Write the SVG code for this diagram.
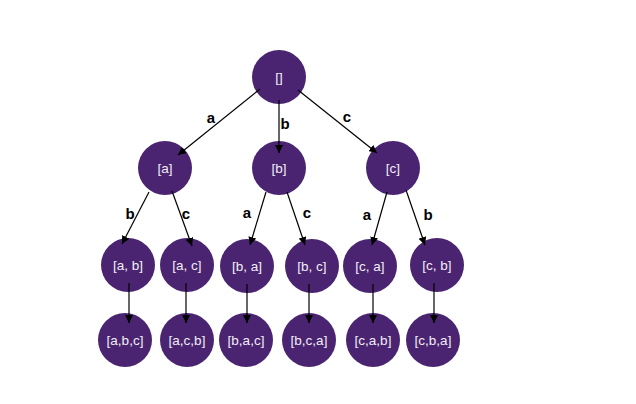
<svg xmlns="http://www.w3.org/2000/svg" width="636" height="404" viewBox="0 0 636 404">
<defs>
<marker id="arr" viewBox="0 0 10 10" refX="10" refY="5" markerWidth="8" markerHeight="8" markerUnits="userSpaceOnUse" orient="auto">
<path d="M0,0 L10,5 L0,10 z" fill="#000"/>
</marker>
</defs>
<style>
.n circle{fill:#4a2471;}
.n text{fill:#f2eef6;font-family:"Liberation Sans",Arial,sans-serif;font-size:13.5px;text-anchor:middle;dominant-baseline:central;}
.e line{stroke:#000;stroke-width:1.2;marker-end:url(#arr);}
.l text{fill:#000;font-family:"Liberation Sans",Arial,sans-serif;font-size:15px;font-weight:bold;text-anchor:middle;dominant-baseline:central;}
</style>
<rect width="636" height="404" fill="#fff"/>
<g id="n-root" class="n"><circle cx="279" cy="77" r="27"/><text x="279" y="77">[]</text></g>
<g id="n-a" class="n"><circle cx="165" cy="168" r="27"/><text x="165" y="168">[a]</text></g>
<g id="n-b" class="n"><circle cx="279" cy="168" r="27"/><text x="279" y="168">[b]</text></g>
<g id="n-c" class="n"><circle cx="393" cy="168" r="27"/><text x="393" y="168">[c]</text></g>
<g id="n-ab" class="n"><circle cx="128" cy="265" r="27"/><text x="128" y="265">[a, b]</text></g>
<g id="n-ac" class="n"><circle cx="187" cy="265" r="27"/><text x="187" y="265">[a, c]</text></g>
<g id="n-ba" class="n"><circle cx="247" cy="266" r="27"/><text x="247" y="266">[b, a]</text></g>
<g id="n-bc" class="n"><circle cx="312" cy="266" r="27"/><text x="312" y="266">[b, c]</text></g>
<g id="n-ca" class="n"><circle cx="370" cy="266" r="27"/><text x="370" y="266">[c, a]</text></g>
<g id="n-cb" class="n"><circle cx="437" cy="265" r="27"/><text x="437" y="265">[c, b]</text></g>
<g id="n-abc" class="n"><circle cx="125" cy="340" r="27"/><text x="125" y="340">[a,b,c]</text></g>
<g id="n-acb" class="n"><circle cx="187" cy="340" r="27"/><text x="187" y="340">[a,c,b]</text></g>
<g id="n-bac" class="n"><circle cx="246" cy="340" r="27"/><text x="246" y="340">[b,a,c]</text></g>
<g id="n-bca" class="n"><circle cx="309" cy="340" r="27"/><text x="309" y="340">[b,c,a]</text></g>
<g id="n-cab" class="n"><circle cx="373" cy="340" r="27"/><text x="373" y="340">[c,a,b]</text></g>
<g id="n-cba" class="n"><circle cx="433" cy="340" r="27"/><text x="433" y="340">[c,b,a]</text></g>
<g id="connectors" class="e">
<line x1="260" y1="89" x2="178" y2="155"/>
<line x1="279" y1="100" x2="279" y2="153"/>
<line x1="298" y1="90" x2="377" y2="153"/>
<line x1="149" y1="192" x2="122" y2="244"/>
<line x1="172" y1="191" x2="192" y2="246"/>
<line x1="266" y1="192" x2="250" y2="245"/>
<line x1="287" y1="192" x2="305" y2="245"/>
<line x1="387" y1="192" x2="372" y2="245"/>
<line x1="406" y1="190" x2="425" y2="245"/>
<line x1="129" y1="283" x2="129" y2="323"/>
<line x1="186" y1="283" x2="186" y2="323"/>
<line x1="247" y1="284" x2="247" y2="323"/>
<line x1="309" y1="284" x2="309" y2="323"/>
<line x1="373" y1="284" x2="373" y2="323"/>
<line x1="434" y1="283" x2="434" y2="323"/>
</g>
<g id="labels" class="l">
<text x="211" y="117">a</text>
<text x="285" y="123">b</text>
<text x="347" y="116">c</text>
<text x="130" y="213">b</text>
<text x="186" y="213">c</text>
<text x="247" y="212">a</text>
<text x="307" y="212">c</text>
<text x="367" y="214">a</text>
<text x="428" y="214">b</text>
</g>
</svg>
